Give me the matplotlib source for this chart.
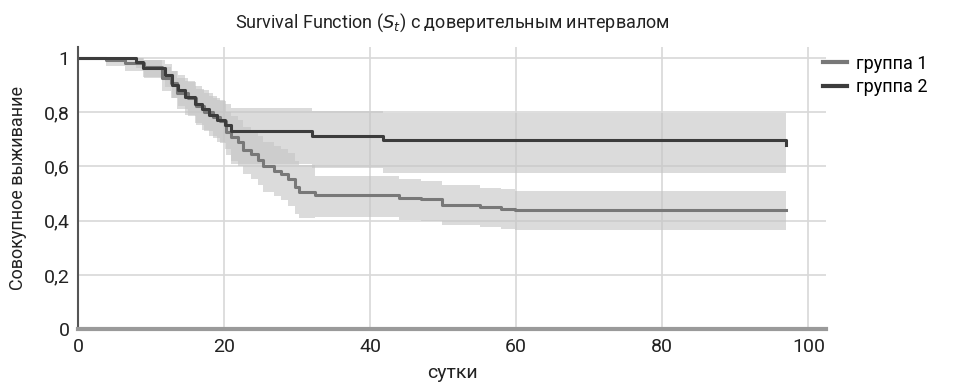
import matplotlib
matplotlib.use("Agg")
import matplotlib.pyplot as plt
from matplotlib.ticker import FuncFormatter

plt.rcParams['font.family'] = ['Liberation Sans Narrow', 'Roboto', 'DejaVu Sans']

# группа 1 (Kaplan-Meier steps + CI)
t1 = [0, 3.9, 6.5, 9.0, 11.5, 12.8, 13.6, 15.0, 16.2, 17.3, 18.5, 19.4, 20.3, 21.0, 21.9,
      22.6, 23.7, 24.6, 25.3, 26.9, 27.8, 28.7, 29.7, 30.3, 32.4, 43.9, 46.9, 49.9, 55.0,
      57.9, 59.8, 97.0]
s1 = [1.0, 0.99, 0.98, 0.965, 0.925, 0.905, 0.87, 0.85, 0.82, 0.80, 0.78, 0.765, 0.725, 0.707,
      0.69, 0.66, 0.647, 0.622, 0.60, 0.583, 0.57, 0.553, 0.524, 0.506, 0.495, 0.484, 0.478,
      0.456, 0.451, 0.444, 0.438, 0.438]
lo1 = [1.0, 0.97, 0.95, 0.925, 0.875, 0.85, 0.81, 0.785, 0.75, 0.73, 0.705, 0.685, 0.64, 0.62,
       0.60, 0.57, 0.555, 0.53, 0.505, 0.49, 0.475, 0.455, 0.425, 0.41, 0.415, 0.404, 0.398,
       0.383, 0.378, 0.371, 0.366, 0.366]
hi1 = [1.0, 1.0, 1.0, 0.99, 0.965, 0.95, 0.925, 0.91, 0.885, 0.87, 0.85, 0.84, 0.80, 0.785,
       0.77, 0.745, 0.73, 0.71, 0.69, 0.675, 0.665, 0.65, 0.62, 0.605, 0.566, 0.554, 0.545,
       0.53, 0.522, 0.515, 0.508, 0.508]

# группа 2
t2 = [0, 8.0, 8.9, 11.9, 12.9, 13.7, 14.6, 16.0, 17.0, 18.0, 19.0, 20.1, 21.0, 32.1, 41.8, 97.0]
s2 = [1.0, 0.985, 0.963, 0.936, 0.90, 0.88, 0.855, 0.83, 0.81, 0.79, 0.77, 0.75, 0.728, 0.712,
      0.696, 0.68]
lo2 = [1.0, 0.96, 0.93, 0.89, 0.85, 0.82, 0.79, 0.76, 0.735, 0.71, 0.69, 0.665, 0.61, 0.595,
       0.575, 0.575]
hi2 = [1.0, 1.0, 0.99, 0.975, 0.95, 0.935, 0.915, 0.895, 0.88, 0.86, 0.845, 0.83, 0.815, 0.805,
       0.795, 0.795]

xticks = [0, 20, 40, 60, 80, 100]
yticks = [0, 0.2, 0.4, 0.6, 0.8, 1.0]

fig = plt.figure(figsize=(9.57, 3.85), dpi=100)
ax = fig.add_axes([0.0815, 0.1442, 0.7815, 0.734])

ax.fill_between(t1, lo1, hi1, step='post', color='#c4c4c4', alpha=0.6, linewidth=0)
ax.fill_between(t2, lo2, hi2, step='post', color='#c4c4c4', alpha=0.6, linewidth=0)
ax.step(t1, s1, where='post', color='#787878', lw=2.2, label='группа 1')
ax.step(t2, s2, where='post', color='#3c3c3c', lw=2.2, label='группа 2')

ax.set_xlim(0, 102.4)
ax.set_ylim(0, 1.039)
ax.set_xticks(xticks)
ax.set_yticks(yticks)
ax.yaxis.set_major_formatter(FuncFormatter(lambda v, p: ('%g' % v).replace('.', ',')))
ax.tick_params(length=0, labelsize=14, colors='#222222', pad=6)
ax.grid(True, color='#d8d8d8', lw=1.2)
ax.set_axisbelow(True)
for s in ['top', 'right']:
    ax.spines[s].set_visible(False)
ax.spines['left'].set_color('#555555')
ax.spines['left'].set_linewidth(1.5)
ax.spines['bottom'].set_color('#9a9a9a')
ax.spines['bottom'].set_linewidth(3)

ax.set_title('Survival Function ($S_t$) с доверительным интервалом', fontsize=13, pad=14,
             color='#222222')
ax.set_xlabel('сутки', fontsize=14, labelpad=6, color='#222222')
ax.set_ylabel('Совокупное выживание', fontsize=13, labelpad=12, color='#222222')

leg = ax.legend(loc='upper left', bbox_to_anchor=(0.975, 1.03), frameon=False, fontsize=13,
                handlelength=1.3, handletextpad=0.5, labelspacing=0.3)
for h in leg.legend_handles:
    h.set_linewidth(3)

fig.savefig('out.png', dpi=100)
